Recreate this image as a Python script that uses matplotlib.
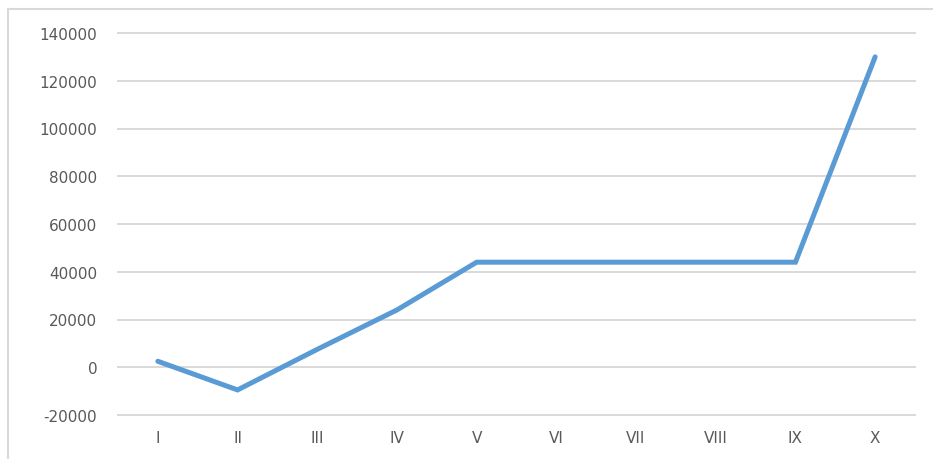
import matplotlib
matplotlib.use("Agg")
import matplotlib.pyplot as plt
from matplotlib.lines import Line2D

# Monthly values (Roman numeral periods)
periods = ["I", "II", "III", "IV", "V", "VI", "VII", "VIII", "IX", "X"]
values = [2500, -9500, 7500, 24000, 44000, 44000, 44000, 44000, 44000, 130000]
y_ticks = [-20000, 0, 20000, 40000, 60000, 80000, 100000, 120000, 140000]

W, H = 933, 460
fig = plt.figure(figsize=(W / 100, H / 100), dpi=100)
fig.patch.set_facecolor("white")

left, right, top, bottom = 118, 915, 34, 416
ax = fig.add_axes([left / W, 1 - bottom / H, (right - left) / W, (bottom - top) / H])

x = list(range(len(periods)))
ax.plot(x, values, color="#5b9bd5", linewidth=3.6, solid_capstyle="round",
        solid_joinstyle="miter", zorder=3)

ax.set_xlim(-0.5, len(periods) - 0.5)
ax.set_ylim(y_ticks[0], y_ticks[-1])
ax.set_yticks(y_ticks)
ax.set_yticklabels([str(v) for v in y_ticks])
ax.set_xticks(x)
ax.set_xticklabels(periods)

ax.grid(axis="y", color="#d9d9d9", linewidth=1.4)
ax.grid(axis="x", visible=False)
for gl in ax.get_ygridlines():
    gl.set_clip_on(False)
ax.set_axisbelow(True)
for s in ax.spines.values():
    s.set_visible(False)

ax.tick_params(axis="y", length=0, pad=15, labelsize=11, labelcolor="#595959")
ax.tick_params(axis="x", length=0, pad=11, labelsize=11, labelcolor="#595959")

# Outer chart frame
fy = 1 - 10 / H
fx = 8 / W
fig.add_artist(Line2D([fx, 1], [fy, fy], color="#d9d9d9", linewidth=1.5,
                      transform=fig.transFigure))
fig.add_artist(Line2D([fx, fx], [0, fy], color="#d9d9d9", linewidth=1.5,
                      transform=fig.transFigure))

fig.savefig("out.png", dpi=100)
